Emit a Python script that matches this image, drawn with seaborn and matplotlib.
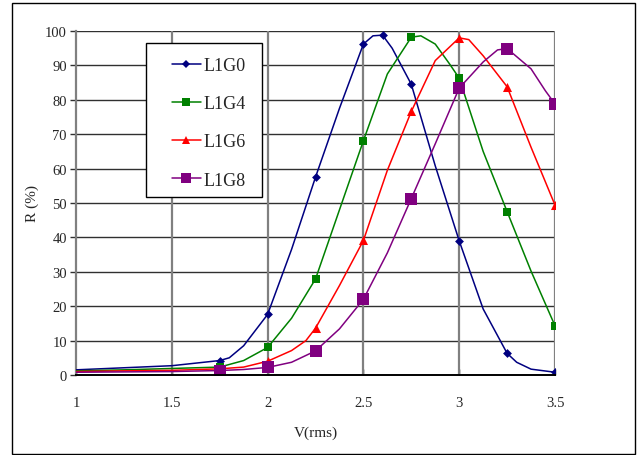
import matplotlib
matplotlib.use("Agg")
import matplotlib.pyplot as plt
from matplotlib.lines import Line2D
from matplotlib.patches import Rectangle
import seaborn as sns
import pandas as pd

# ---- data ----
series_names = ["L1G0", "L1G4", "L1G6", "L1G8"]

# curve points (line)
g0_x = [1.0, 1.25, 1.5, 1.75, 1.8, 1.875, 2.0, 2.125, 2.25, 2.375, 2.5, 2.55, 2.6, 2.65, 2.75, 2.875, 3.0, 3.125, 3.25, 3.3, 3.375, 3.5]
g0_y = [1.5, 2.1, 2.7, 4.2, 5.0, 8.5, 17.6, 36.5, 57.5, 77.5, 96.2, 98.6, 98.8, 95.0, 84.5, 60.8, 39.0, 19.2, 6.3, 3.7, 1.7, 0.8]

g4_x = [1.0, 1.25, 1.5, 1.75, 1.875, 2.0, 2.125, 2.25, 2.375, 2.5, 2.625, 2.75, 2.8, 2.875, 2.95, 3.0, 3.125, 3.25, 3.375, 3.5]
g4_y = [1.2, 1.5, 1.9, 2.3, 4.2, 8.0, 16.5, 27.9, 48.0, 68.1, 87.5, 98.2, 98.6, 96.2, 90.4, 86.3, 65.0, 47.5, 30.2, 14.3]

g6_x = [1.0, 1.25, 1.5, 1.75, 1.875, 2.0, 2.125, 2.2, 2.25, 2.375, 2.5, 2.625, 2.75, 2.875, 3.0, 3.05, 3.125, 3.25, 3.375, 3.5]
g6_y = [1.0, 1.2, 1.35, 1.8, 2.3, 4.0, 7.1, 10.0, 13.6, 26.0, 39.1, 59.5, 76.6, 91.4, 98.0, 97.5, 92.8, 83.8, 66.2, 49.4]

g8_x = [1.0, 1.25, 1.5, 1.75, 1.875, 2.0, 2.125, 2.25, 2.375, 2.5, 2.625, 2.75, 2.875, 3.0, 3.125, 3.2, 3.25, 3.375, 3.45, 3.5]
g8_y = [0.8, 0.9, 1.0, 1.3, 1.6, 2.2, 3.7, 7.0, 13.4, 22.0, 35.5, 51.3, 67.2, 83.4, 91.0, 94.5, 94.9, 89.0, 82.6, 78.8]

# marked data points
g0_mx = [1.75, 2.0, 2.25, 2.5, 2.6, 2.75, 3.0, 3.25, 3.5]
g0_my = [4.2, 17.6, 57.5, 96.2, 98.8, 84.5, 39.0, 6.3, 0.8]
g4_mx = [1.75, 2.0, 2.25, 2.5, 2.75, 3.0, 3.25, 3.5]
g4_my = [2.3, 8.0, 27.9, 68.1, 98.2, 86.3, 47.5, 14.3]
g6_mx = [1.75, 2.0, 2.25, 2.5, 2.75, 3.0, 3.25, 3.5]
g6_my = [1.6, 4.0, 13.6, 39.1, 76.6, 98.0, 83.8, 49.4]
g8_mx = [1.75, 2.0, 2.25, 2.5, 2.75, 3.0, 3.25, 3.5]
g8_my = [1.3, 2.2, 7.0, 22.0, 51.3, 83.4, 94.9, 78.8]

x_ticks = [1, 1.5, 2, 2.5, 3, 3.5]
x_tick_labels = ["1", "1.5", "2", "2.5", "3", "3.5"]
y_ticks = [0, 10, 20, 30, 40, 50, 60, 70, 80, 90, 100]
x_label = "V(rms)"
y_label = "R (%)"

# ---- styling ----
colors = {"L1G0": "#000080", "L1G4": "#008000", "L1G6": "#FF0000", "L1G8": "#800080"}
markers = {"L1G0": "D", "L1G4": "s", "L1G6": "^", "L1G8": "s"}
msizes = {"L1G0": 4.5, "L1G4": 5.5, "L1G6": 6.5, "L1G8": 8.0}

sns.set_style("white")
plt.rcParams["font.family"] = ["Liberation Serif", "DejaVu Serif"]

line_frames = []
mark_frames = []
for name, lx, ly, mx, my in [
    ("L1G0", g0_x, g0_y, g0_mx, g0_my),
    ("L1G4", g4_x, g4_y, g4_mx, g4_my),
    ("L1G6", g6_x, g6_y, g6_mx, g6_my),
    ("L1G8", g8_x, g8_y, g8_mx, g8_my),
]:
    line_frames.append(pd.DataFrame({"V": lx, "R": ly, "series": name}))
    mark_frames.append(pd.DataFrame({"V": mx, "R": my, "series": name}))
lines_df = pd.concat(line_frames, ignore_index=True)

fig = plt.figure(figsize=(6.41, 4.56), dpi=100)
ax = fig.add_axes([76 / 641, 1 - 376 / 456, 479 / 641, 344 / 456])

sns.lineplot(data=lines_df, x="V", y="R", hue="series", palette=colors,
             estimator=None, sort=False, linewidth=1.1, legend=False, ax=ax, zorder=3)
for name, mdf in zip(series_names, mark_frames):
    sns.scatterplot(data=mdf, x="V", y="R", color=colors[name], marker=markers[name],
                    s=msizes[name] ** 2, linewidth=0, legend=False, ax=ax, zorder=4)

ax.set_xlim(1, 3.5)
ax.set_ylim(0, 100)
ax.set_xticks(x_ticks)
ax.set_xticklabels(x_tick_labels)
ax.set_yticks(y_ticks)

# gridlines
for yv in y_ticks[1:]:
    ax.axhline(yv, color="#303030", linewidth=1.0, zorder=1)
for xv in x_ticks[1:]:
    ax.axvline(xv, color="#808080", linewidth=1.6, zorder=1)

for side in ["top", "right"]:
    ax.spines[side].set_visible(False)
ax.spines["left"].set_color("#808080")
ax.spines["left"].set_linewidth(1.6)
ax.spines["bottom"].set_color("black")
ax.spines["bottom"].set_linewidth(1.4)
ax.spines["left"].set_zorder(2)
ax.spines["bottom"].set_zorder(5)

ax.tick_params(axis="y", direction="out", length=4, width=1, color="#303030",
               pad=2.5, labelsize=10.5, left=True)
ax.tick_params(axis="x", direction="in", length=4, width=1, color="black",
               pad=15, labelsize=10.5, bottom=True)

ax.set_xlabel(x_label, fontsize=11)
ax.set_ylabel(y_label, fontsize=11)
ax.xaxis.set_label_coords(0.5, -0.147)
ax.xaxis.label.set_va("top")
ax.yaxis.set_label_coords(-0.077, 0.5)

# legend frame (drawn separately for exact padding) and legend entries
ax.add_patch(Rectangle((0.1461, 0.5174), 0.2422, 0.4477, transform=ax.transAxes,
                       facecolor="white", edgecolor="black", linewidth=1.0, zorder=9))
handles = [Line2D([0], [0], color=colors[n], marker=markers[n], markersize=msizes[n] * 0.95,
                  markeredgewidth=0, linewidth=1.1) for n in series_names]
leg = ax.legend(handles, series_names, loc="upper left", bbox_to_anchor=(0.2004, 0.924),
                borderaxespad=0, borderpad=0, fontsize=13, frameon=False,
                handlelength=1.6, handletextpad=0.17, labelspacing=1.17)
leg.set_zorder(10)

fig.patches.append(Rectangle((12 / 641, 1 - 455 / 456), 623 / 641, 451 / 456,
                             transform=fig.transFigure, fill=False, edgecolor="black",
                             linewidth=1.0))

fig.savefig("out.png", dpi=100)
